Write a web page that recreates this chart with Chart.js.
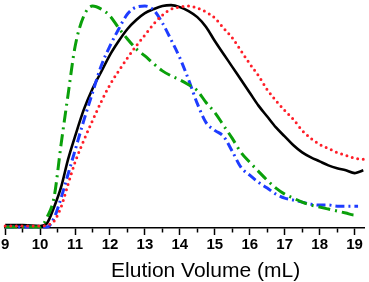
<!DOCTYPE html>
<html>
<head>
<meta charset="utf-8">
<script src="https://cdn.jsdelivr.net/npm/chart.js@4"></script>
<style>
  html, body { margin: 0; padding: 0; background: #fff; }
</style>
</head>
<body>
<canvas id="myChart" width="369" height="282"></canvas>
<script>
// Elution volume (mL) grid shared by all four traces
var volume = [9, 9.5, 10, 10.2, 10.4, 10.6, 10.8, 11, 11.25, 11.5, 11.75, 12, 12.25, 12.5, 12.75,
  13, 13.25, 13.5, 13.75, 14, 14.25, 14.5, 14.75, 15, 15.25, 15.5, 15.75, 16, 16.25, 16.5,
  16.75, 17, 17.25, 17.5, 17.75, 18, 18.25, 18.5, 18.75, 19, 19.1, 19.25];

// normalised detector response
var blackTrace = [0.013, 0.013, 0.009, 0.022, 0.094, 0.183, 0.308, 0.411, 0.531, 0.625, 0.701, 0.777, 0.839, 0.893, 0.933,
  0.964, 0.982, 0.996, 1.0, 0.991, 0.973, 0.946, 0.902, 0.839, 0.781, 0.723, 0.665, 0.607, 0.549, 0.5,
  0.451, 0.411, 0.371, 0.339, 0.317, 0.299, 0.281, 0.268, 0.259, 0.246, 0.25, 0.259];
var redTrace = [0.009, 0.009, 0.009, 0.013, 0.031, 0.094, 0.196, 0.295, 0.393, 0.482, 0.567, 0.643, 0.705, 0.763, 0.817,
  0.866, 0.915, 0.955, 0.982, 0.991, 0.996, 0.987, 0.969, 0.942, 0.897, 0.853, 0.795, 0.737, 0.683, 0.621,
  0.571, 0.527, 0.487, 0.438, 0.402, 0.375, 0.357, 0.339, 0.326, 0.313, 0.31, 0.308];
var blueTrace = [0.004, 0.004, 0.004, 0.004, 0.045, 0.134, 0.241, 0.348, 0.482, 0.607, 0.728, 0.817, 0.893, 0.96, 0.991,
  0.996, 0.978, 0.92, 0.844, 0.763, 0.665, 0.558, 0.473, 0.438, 0.411, 0.344, 0.272, 0.237, 0.205, 0.179,
  0.152, 0.134, 0.125, 0.116, 0.107, 0.103, 0.103, 0.098, 0.098, 0.098, 0.098, null];
var greenTrace = [0.004, 0.004, 0.004, 0.049, 0.138, 0.375, 0.598, 0.813, 0.951, 0.996, 0.982, 0.951, 0.897, 0.848, 0.804,
  0.772, 0.737, 0.705, 0.683, 0.665, 0.643, 0.616, 0.563, 0.518, 0.46, 0.402, 0.339, 0.295, 0.254, 0.214,
  0.179, 0.152, 0.134, 0.116, 0.103, 0.094, 0.085, 0.076, 0.067, 0.058, 0.058, null];

var axisLabel = "Elution Volume (mL)";

function toPoints(arr) {
  return volume.map(function (v, i) { return { x: v, y: arr[i] }; });
}

// axis title sits a bit right of centre in the original
var axisTitle = {
  id: "axisTitle",
  afterDraw: function (chart) {
    var ctx = chart.ctx;
    var area = chart.chartArea;
    ctx.save();
    ctx.font = '21px "Liberation Sans", Arial, sans-serif';
    ctx.fillStyle = "#000";
    ctx.textAlign = "center";
    ctx.textBaseline = "alphabetic";
    ctx.fillText(axisLabel, (area.left + area.right) / 2 + 21, chart.height - 5);
    ctx.restore();
  }
};

new Chart("myChart", {
  type: "line",
  data: {
    datasets: [
      {
        data: toPoints(redTrace),
        borderColor: "rgb(255,30,40)",
        borderWidth: 3,
        borderDash: [0, 5.6],
        borderCapStyle: "round",
      },
      {
        data: toPoints(greenTrace),
        borderColor: "rgb(10,160,10)",
        borderWidth: 3,
        borderDash: [12, 5, 2, 5],
      },
      {
        data: toPoints(blueTrace),
        borderColor: "rgb(30,60,255)",
        borderWidth: 3,
        borderDash: [9, 4, 2, 4],
      },
      {
        data: toPoints(blackTrace),
        borderColor: "#000",
        borderWidth: 2.6,
      },
    ],
  },
  options: {
    responsive: false,
    animation: false,
    layout: { padding: { left: 5, right: 5, top: 4, bottom: 27 } },
    elements: { point: { radius: 0 }, line: { cubicInterpolationMode: "monotone" } },
    datasets: { line: { clip: false } },
    plugins: { legend: { display: false }, tooltip: { enabled: false } },
    scales: {
      x: {
        type: "linear",
        min: 9,
        max: 19.27,
        ticks: {
          stepSize: 0.5,
          includeBounds: false,
          autoSkip: false,
          maxRotation: 0,
          padding: 1,
          color: "#000",
          font: { family: '"Liberation Sans", Arial, sans-serif', size: 15, weight: "bold" },
          callback: function (v) { return Number.isInteger(v) ? v : ""; },
        },
        grid: {
          drawOnChartArea: false,
          tickLength: 7,
          tickColor: "#000",
          tickWidth: 1.5,
          tickBorderDash: function (ctx) {
            return Number.isInteger(ctx.tick.value) ? [] : [4, 20];
          },
        },
        border: { display: true, color: "#000", width: 1.5 },
      },
      y: { display: false, min: 0, max: 1.005 },
    },
  },
  plugins: [axisTitle],
});
</script>
</body>
</html>
